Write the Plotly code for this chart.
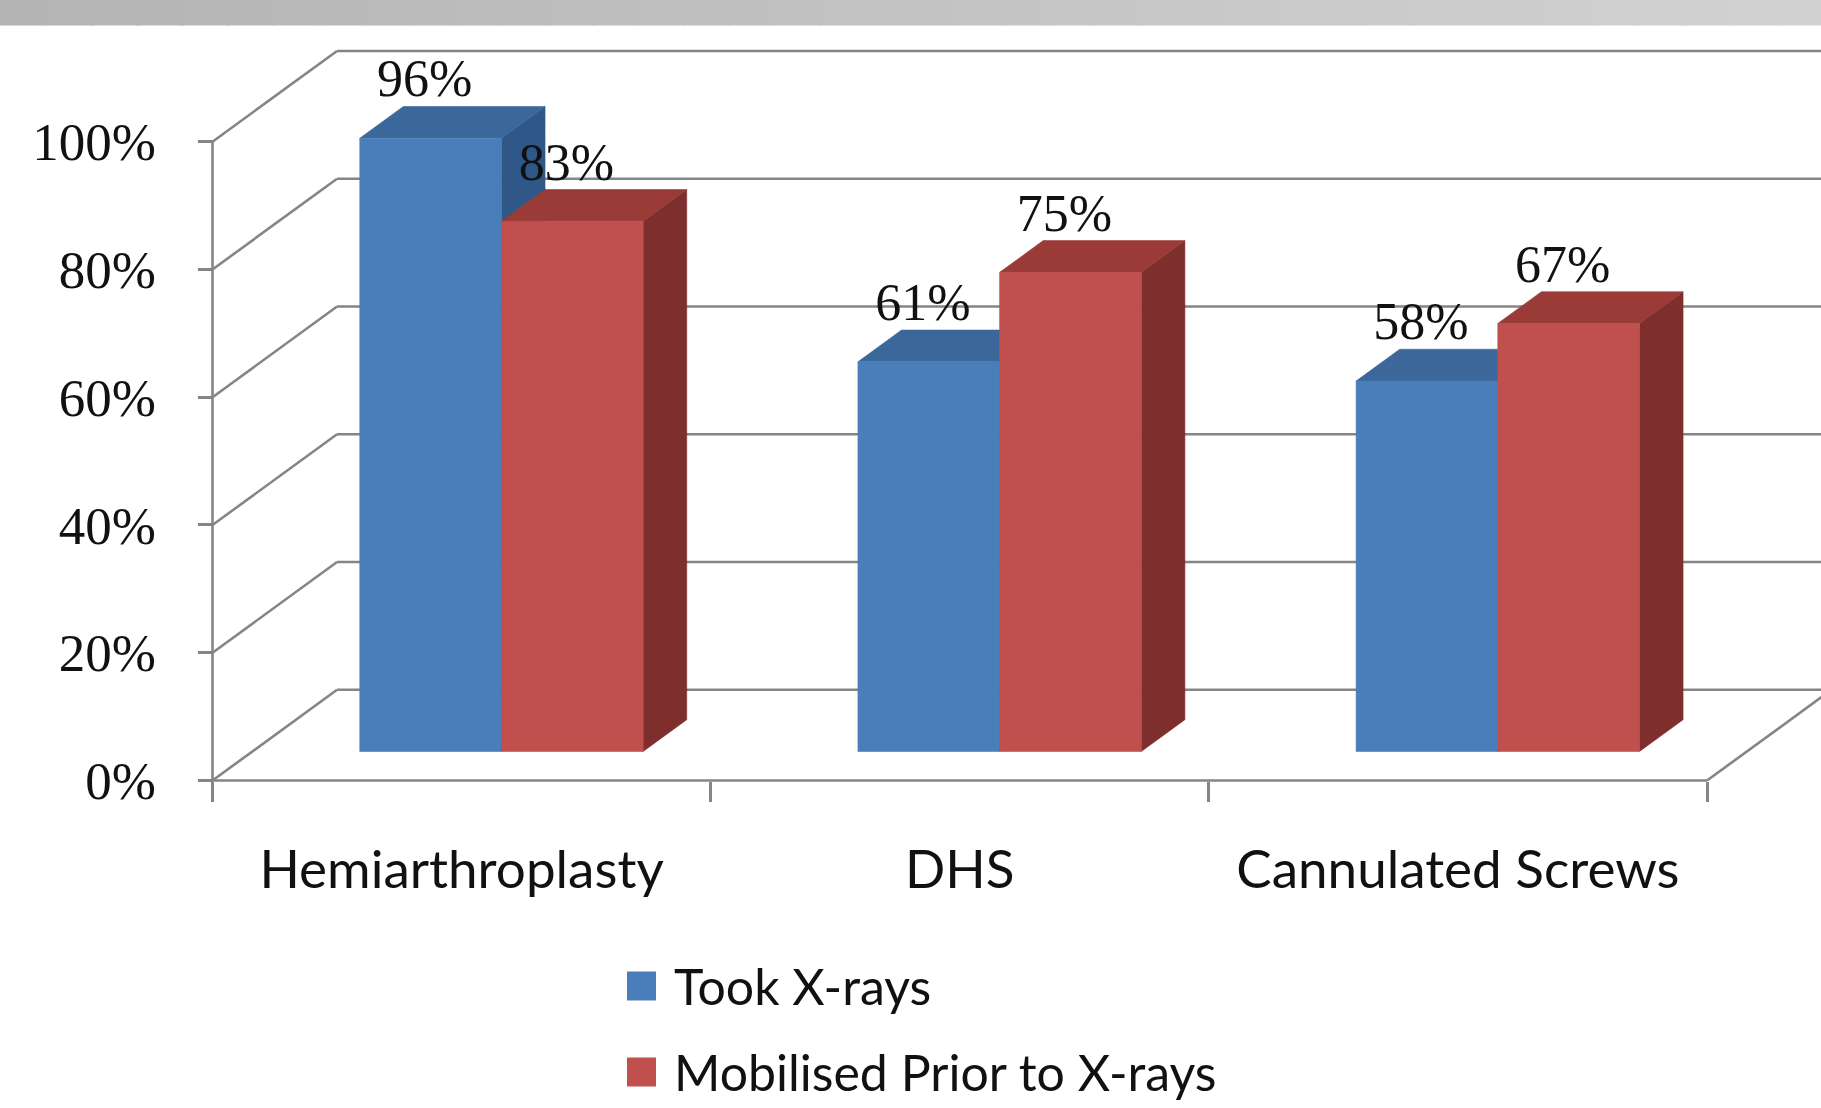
import plotly.graph_objects as go

# ---- data -------------------------------------------------------------
categories = ["Hemiarthroplasty", "DHS", "Cannulated Screws"]
took_xrays = [96, 61, 58]
mobilised_prior = [83, 75, 67]
series_names = ["Took X-rays", "Mobilised Prior to X-rays"]
y_tick_values = [0, 20, 40, 60, 80, 100]
y_tick_labels = ["0%", "20%", "40%", "60%", "80%", "100%"]

# ---- page / projection settings ----------------------------------------
W, H = 1821, 1108
PX_PER_CAT = 498.17      # horizontal pixels per category slot
PX_PER_PCT = 6.388       # vertical pixels per percentage point
AXIS_X_PX = 212.5        # front value-axis position (px from left)
ZERO_Y_PX = 780.5        # front 0% line (px from top)
DEPTH_DX = 0.25          # floor depth, horizontal shift (category units)
DEPTH_DY = 14.2          # floor depth, vertical shift (percent units)
BAR_FRONT, BAR_BACK = 0.32, 0.67   # bar depth span as fraction of floor depth
BAR_W = 0.2844           # bar width (category units)

GRID = "#858585"
SERIF = "Liberation Serif"
SANS = "Lato"

FACE_COLORS = [
    {"front": "#4A7EBB", "top": "#3C679B", "side": "#2F5889"},
    {"front": "#C0504D", "top": "#9A3B38", "side": "#7E2E2C"},
]

x_range = [-0.5 - AXIS_X_PX / PX_PER_CAT, -0.5 + (W - AXIS_X_PX) / PX_PER_CAT]
y_range = [-(H - ZERO_Y_PX) / PX_PER_PCT, ZERO_Y_PX / PX_PER_PCT]

ddx = (BAR_BACK - BAR_FRONT) * DEPTH_DX
ddy = (BAR_BACK - BAR_FRONT) * DEPTH_DY
base = BAR_FRONT * DEPTH_DY

fig = go.Figure()


def poly_trace(polys, color, name):
    xs, ys = [], []
    for p in polys:
        for (px, py) in p:
            xs.append(px)
            ys.append(py)
        xs.append(p[0][0])
        ys.append(p[0][1])
        xs.append(None)
        ys.append(None)
    return go.Scatter(x=xs, y=ys, mode="lines", fill="toself", fillcolor=color,
                      line=dict(width=0.6, color=color), name=name,
                      showlegend=False, hoverinfo="skip")


label_x, label_y, label_txt = [], [], []
for s, values in enumerate([took_xrays, mobilised_prior]):
    fronts, tops, sides = [], [], []
    for i, v in enumerate(values):
        xl = i + BAR_FRONT * DEPTH_DX - BAR_W + s * BAR_W
        xr = xl + BAR_W
        top = base + v
        fronts.append([(xl, base), (xr, base), (xr, top), (xl, top)])
        tops.append([(xl, top), (xl + ddx, top + ddy), (xr + ddx, top + ddy), (xr, top)])
        sides.append([(xr, base), (xr + ddx, base + ddy), (xr + ddx, top + ddy), (xr, top)])
        label_x.append((xl + xr) / 2 - 0.012)
        label_y.append(v + BAR_BACK * DEPTH_DY + 3.6)
        label_txt.append(f"{v}%")
    c = FACE_COLORS[s]
    fig.add_trace(poly_trace(sides, c["side"], series_names[s]))
    fig.add_trace(poly_trace(tops, c["top"], series_names[s]))
    fig.add_trace(poly_trace(fronts, c["front"], series_names[s]))

# value labels above each column
fig.add_trace(go.Scatter(x=label_x, y=label_y, text=label_txt, mode="text",
                         textposition="middle center",
                         textfont=dict(family=SERIF, size=52, color="#111111"),
                         xaxis="x2", yaxis="y", showlegend=False, hoverinfo="skip"))

# ---- 3-D frame: walls, floor and gridlines ----------------------------------
shapes = []
line = dict(color=GRID, width=2.6)
x0 = -0.5
x_end = 2.5
for v in y_tick_values:
    # side wall diagonal
    shapes.append(dict(type="line", xref="x", yref="y", x0=x0, y0=v,
                       x1=x0 + DEPTH_DX, y1=v + DEPTH_DY, line=line, layer="below"))
    # back wall gridline
    shapes.append(dict(type="line", xref="x", yref="y", x0=x0 + DEPTH_DX, y0=v + DEPTH_DY,
                       x1=x_range[1] + 0.1, y1=v + DEPTH_DY, line=line, layer="below"))
# floor front edge and right edge
shapes.append(dict(type="line", xref="x", yref="y", x0=x0, y0=0, x1=x_end, y1=0,
                   line=line, layer="below"))
shapes.append(dict(type="line", xref="x", yref="y", x0=x_end, y0=0,
                   x1=x_end + DEPTH_DX, y1=DEPTH_DY, line=line, layer="below"))
# front value axis
shapes.append(dict(type="line", xref="x", yref="y", x0=x0, y0=0, x1=x0, y1=100,
                   line=line, layer="below"))

# title band across the top
n_strips = 40
for k in range(n_strips):
    t = k / (n_strips - 1)
    g = int(round(0xB4 + (0xD2 - 0xB4) * t))
    shapes.append(dict(type="rect", xref="paper", yref="paper",
                       x0=k / n_strips, x1=(k + 1) / n_strips + 0.001,
                       y0=1 - 25.5 / H, y1=1.0,
                       fillcolor=f"rgb({g},{g},{g})", line=dict(width=0), layer="above"))

# legend swatches
legend_rows_px = [986, 1072]
annotations = []
for s, ypx in enumerate(legend_rows_px):
    shapes.append(dict(type="rect", xref="paper", yref="paper",
                       x0=627 / W, x1=656 / W,
                       y0=1 - (ypx + 14.5) / H, y1=1 - (ypx - 14.5) / H,
                       fillcolor=FACE_COLORS[s]["front"], line=dict(width=0)))
    annotations.append(dict(xref="paper", yref="paper", x=672 / W, y=1 - ypx / H,
                            xanchor="left", yanchor="middle", showarrow=False,
                            text=series_names[s],
                            font=dict(family=SANS, size=50, color="#111111")))

axis_pos_y = (H - ZERO_Y_PX) / H

fig.update_layout(
    template="none",
    width=W, height=H,
    margin=dict(l=0, r=0, t=0, b=0, pad=0),
    paper_bgcolor="white", plot_bgcolor="white",
    showlegend=False,
    shapes=shapes,
    annotations=annotations,
    xaxis=dict(range=x_range, domain=[0, 1], anchor="free", position=axis_pos_y,
               tickvals=[-0.5, 0.5, 1.5, 2.5], ticks="outside", ticklen=20,
               tickwidth=2.6, tickcolor=GRID, showticklabels=False,
               showgrid=False, zeroline=False, showline=False, automargin=False,
               fixedrange=True),
    xaxis2=dict(range=x_range, overlaying="x", anchor="free", position=axis_pos_y,
                side="bottom", tickvals=[0, 1, 2], ticktext=categories, ticks="",
                ticklabelstandoff=53,
                tickfont=dict(family=SANS, size=53, color="#111111"),
                showgrid=False, zeroline=False, showline=False, automargin=False,
                fixedrange=True),
    yaxis=dict(range=y_range, domain=[0, 1], anchor="free", position=AXIS_X_PX / W,
               tickvals=y_tick_values, ticktext=y_tick_labels, ticks="outside",
               ticklen=15, tickwidth=2.6, tickcolor=GRID, ticklabelstandoff=31,
               tickfont=dict(family=SERIF, size=53, color="#111111"),
               showgrid=False, zeroline=False, showline=False, automargin=False,
               fixedrange=True),
)

fig.write_html("out.html")
